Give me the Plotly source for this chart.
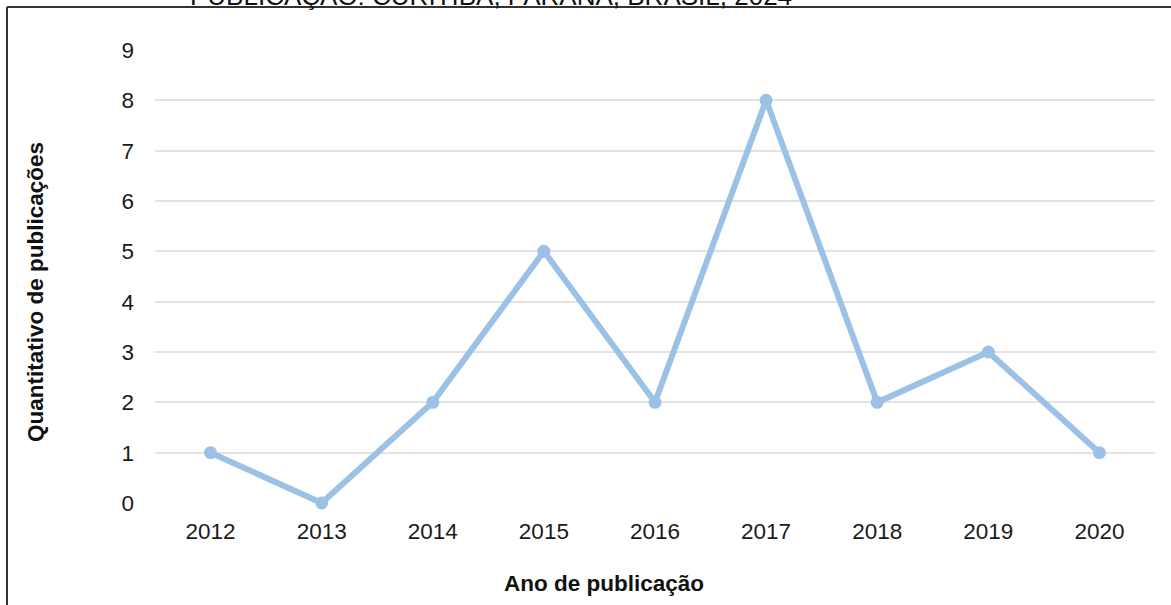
import plotly.graph_objects as go

# Publicações por ano
anos = ["2012", "2013", "2014", "2015", "2016", "2017", "2018", "2019", "2020"]
publicacoes = [1, 0, 2, 5, 2, 8, 2, 3, 1]
y_ticks = [0, 1, 2, 3, 4, 5, 6, 7, 8, 9]

W, H = 1171, 605
L, R, T, B = 155, 16, 50, 102
pw, ph = W - L - R, H - T - B


def px_x(x):
    return (x - L) / pw


def px_y(y):
    return (H - B - y) / ph


fig = go.Figure(
    go.Scatter(
        x=anos,
        y=publicacoes,
        mode="lines+markers",
        line=dict(color="#9bc2e6", width=6),
        marker=dict(color="#9bc2e6", size=13),
        cliponaxis=False,
        showlegend=False,
    )
)

fig.update_layout(
    width=W,
    height=H,
    margin=dict(l=L, r=R, t=T, b=B),
    paper_bgcolor="white",
    plot_bgcolor="white",
    font=dict(family="Liberation Sans, Arial, sans-serif", color="#1a1a1a"),
    xaxis=dict(
        type="category",
        range=[-0.5, 8.5],
        showgrid=False,
        showline=False,
        zeroline=False,
        ticks="",
        tickfont=dict(size=22.5, color="#1a1a1a"),
        ticklabelstandoff=12,
    ),
    yaxis=dict(
        range=[0, 9],
        tickvals=y_ticks,
        showgrid=True,
        gridcolor="#e3e3e3",
        gridwidth=1.5,
        zeroline=False,
        showline=False,
        ticks="",
        tickfont=dict(size=22.5, color="#1a1a1a"),
        ticklabelstandoff=20,
    ),
    shapes=[
        dict(type="line", xref="paper", yref="paper",
             x0=px_x(7), x1=px_x(W + 5), y0=px_y(7), y1=px_y(7),
             line=dict(color="#333", width=2)),
        dict(type="line", xref="paper", yref="paper",
             x0=px_x(7), x1=px_x(7), y0=px_y(7), y1=px_y(H + 5),
             line=dict(color="#333", width=2)),
    ],
    annotations=[
        dict(
            text="PUBLICAÇÃO: CURITIBA, PARANÁ, BRASIL, 2024",
            xref="paper", yref="paper",
            x=px_x(491), y=px_y(13),
            xanchor="center", yanchor="bottom",
            showarrow=False,
            font=dict(size=26, color="#111"),
        ),
        dict(
            text="<b>Ano de publicação</b>",
            xref="paper", yref="paper",
            x=px_x(604), y=px_y(583),
            xanchor="center", yanchor="middle",
            showarrow=False,
            font=dict(size=22.5, color="#111"),
        ),
        dict(
            text="<b>Quantitativo de publicações</b>",
            xref="paper", yref="paper",
            x=px_x(35), y=px_y(292),
            xanchor="center", yanchor="middle",
            textangle=-90,
            showarrow=False,
            font=dict(size=22.5, color="#111"),
        ),
    ],
)

fig.write_html("out.html")
